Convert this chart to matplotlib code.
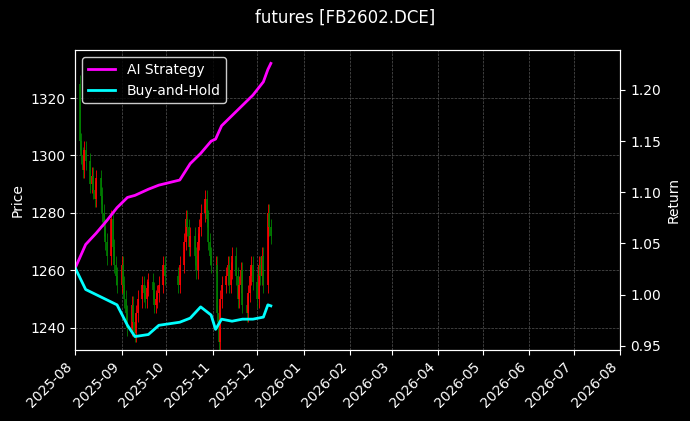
import matplotlib.pyplot as plt
import matplotlib.dates as mdates
import pandas as pd
import numpy as np

# daily closes (trading days Aug 1 - Dec 10, 2025, Oct 1-8 holiday)
closes = [1325, 1305, 1300, 1295, 1302, 1298, 1290, 1293, 1288, 1285, 1292, 1286, 1280, 1275, 1270, 1265, 1278, 1268, 1262, 1258, 1255,
          1262, 1255, 1250, 1245, 1240, 1248, 1242, 1238, 1245, 1250, 1255, 1252, 1250, 1254, 1256, 1253, 1248, 1250, 1252, 1255, 1262, 1258,
          1255, 1262, 1270, 1278, 1275, 1268, 1272, 1265, 1260, 1270, 1275, 1280, 1285, 1278, 1270, 1265, 1262,
          1262, 1245, 1235, 1250, 1255, 1258, 1262, 1255, 1260, 1265, 1258, 1250, 1255, 1260, 1248, 1245, 1252, 1258, 1262, 1256,
          1250, 1262, 1258, 1265, 1255, 1280, 1275, 1272]
first_open = 1330
wick = 3

ret_dates = ["2025-08-01", "2025-08-08", "2025-08-15", "2025-08-22", "2025-08-29", "2025-09-05", "2025-09-10",
             "2025-09-19", "2025-09-26", "2025-10-10", "2025-10-17", "2025-10-24", "2025-10-31", "2025-11-03",
             "2025-11-07", "2025-11-14", "2025-11-21", "2025-11-28", "2025-12-05", "2025-12-08", "2025-12-10"]
ai_ret = [1.026, 1.049, 1.060, 1.072, 1.085, 1.095, 1.097, 1.103, 1.107, 1.112, 1.128, 1.138, 1.150, 1.152,
          1.165, 1.175, 1.185, 1.195, 1.208, 1.220, 1.226]
bh_ret = [1.026, 1.005, 1.000, 0.995, 0.990, 0.970, 0.959, 0.961, 0.970, 0.973, 0.977, 0.988, 0.980, 0.966,
          0.976, 0.974, 0.976, 0.976, 0.978, 0.990, 0.989]

days = pd.bdate_range("2025-08-01", "2025-12-10")
days = days[(days < "2025-10-01") | (days > "2025-10-08")][:len(closes)]
opens = [first_open] + closes[:-1]

plt.style.use("dark_background")
fig, ax = plt.subplots(figsize=(6.9, 4.21), dpi=100)
fig.patch.set_facecolor("#000000")
ax.set_facecolor("#000000")

for d, o, c in zip(days, opens, closes):
    col = "red" if c >= o else "green"
    x = mdates.date2num(d)
    ax.vlines(x, min(o, c) - wick, max(o, c) + wick, color=col, lw=0.6)
    ax.vlines(x, min(o, c), max(o, c), color=col, lw=1.2)

ax.set_ylabel("Price")
ax.set_ylim(1232.3, 1336.7)
ax.set_xlim(mdates.datestr2num("2025-08-01"), mdates.datestr2num("2026-08-01"))
ax.xaxis.set_major_locator(mdates.MonthLocator())
ax.xaxis.set_major_formatter(mdates.DateFormatter("%Y-%m"))
plt.setp(ax.get_xticklabels(), rotation=45, ha="right")
ax.grid(True, ls="--", lw=0.5, color="#555555")

ax2 = ax.twinx()
rd = pd.to_datetime(ret_dates)
ax2.plot(rd, ai_ret, color="magenta", lw=2, label="AI Strategy")
ax2.plot(rd, bh_ret, color="cyan", lw=2, label="Buy-and-Hold")
ax2.set_ylim(0.946, 1.239)
ax2.set_ylabel("Return")
ax2.legend(loc="upper left", facecolor="black", edgecolor="white")

fig.suptitle("futures [FB2602.DCE]")
fig.subplots_adjust(left=0.109, right=0.899, top=0.881, bottom=0.169)
fig.savefig("out.png", dpi=100, facecolor=fig.get_facecolor())
